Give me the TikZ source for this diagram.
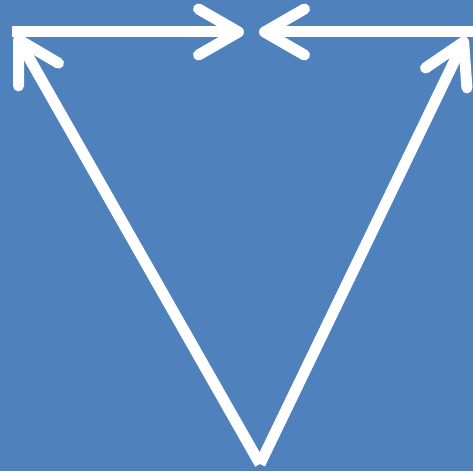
\documentclass[tikz,border=0pt]{standalone}
\usetikzlibrary{arrows.meta}
\definecolor{bgblue}{RGB}{79,129,189}
\tikzset{
  conn/.style={draw=white, line width=11pt, -{Straight Barb[length=40pt, width=46pt, round]}},
}
\begin{document}
\begin{tikzpicture}[x=1pt,y=1pt]
\useasboundingbox (0,0) rectangle (473,471);
\clip (0,0) rectangle (473,471);
\fill[bgblue] (0,0) rectangle (473,471);
\coordinate (B) at (260,7);
\coordinate (L) at (16,436);
\coordinate (R) at (466,434);
\coordinate (ML) at (244,439);
\coordinate (MR) at (259,439);
\coordinate (LE) at (12,439);
\coordinate (RE) at (490,439);
\draw[conn] (B) -- (L);
\draw[conn] (B) -- (R);
\draw[conn] (LE) -- (ML);
\draw[conn] (RE) -- (MR);
\end{tikzpicture}
\end{document}
